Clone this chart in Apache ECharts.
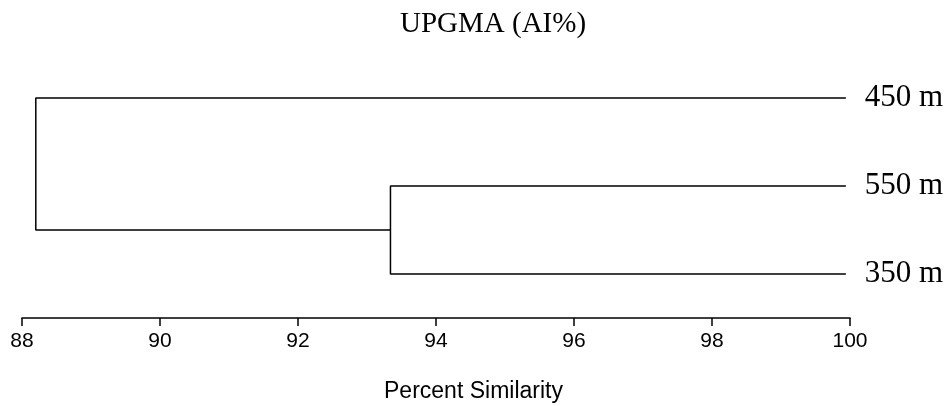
<!DOCTYPE html>
<html>
<head>
<meta charset="utf-8">
<script src="https://cdn.jsdelivr.net/npm/echarts@6/dist/echarts.min.js"></script>
<style>html,body{margin:0;padding:0;background:#fff;}#c{width:951px;height:406px;}</style>
</head>
<body>
<div id="c"></div>
<script>
// Leaves (top to bottom) and their similarity level
const leafNames = ['450 m', '550 m', '350 m'];
const leafSimilarity = [99.94, 99.94, 99.94];
const leafPosition = [3, 2, 1];
// Merge nodes: children given as leaf index (number) or node id ('n0')
const nodeSimilarity = [93.34, 88.2];
const nodeChildren = [[1, 2], [0, 'n0']];
const xTicks = [88, 90, 92, 94, 96, 98, 100];
const axisTitle = 'Percent Similarity';

const nodePos = [];
function childXY(c) {
  if (typeof c === 'number') return [leafSimilarity[c], leafPosition[c]];
  return nodePos[parseInt(c.slice(1), 10)];
}
const linkSeries = [];
nodeChildren.forEach(function (ch, i) {
  const a = childXY(ch[0]);
  const b = childXY(ch[1]);
  const x = nodeSimilarity[i];
  nodePos[i] = [x, (a[1] + b[1]) / 2];
  linkSeries.push({
    type: 'line',
    data: [[a[0], a[1]], [x, a[1]], [x, b[1]], [b[0], b[1]]],
    symbol: 'none',
    lineStyle: { color: '#000', width: 1.5 },
    silent: true,
    animation: false
  });
});

const chart = echarts.init(document.getElementById('c'), null, { renderer: 'canvas' });
chart.setOption({
  backgroundColor: '#fff',
  animation: false,
  title: {
    text: 'UPGMA (AI%)',
    left: 400,
    top: 10,
    padding: 0,
    textStyle: { fontFamily: 'Liberation Serif, Times New Roman, serif', fontWeight: 'normal', fontSize: 29, color: '#000' }
  },
  graphic: [{
    type: 'text',
    x: 473.5,
    y: 380,
    style: {
      text: axisTitle,
      textAlign: 'center',
      textVerticalAlign: 'top',
      fontFamily: 'Liberation Sans, Arial, sans-serif',
      fontSize: 23,
      fill: '#000'
    }
  }],
  grid: { left: 22, right: 101, top: 54, bottom: 88 },
  xAxis: {
    type: 'value',
    min: xTicks[0],
    max: xTicks[xTicks.length - 1],
    interval: 2,
    axisLine: { lineStyle: { color: '#000', width: 1.5 } },
    axisTick: { show: true, length: 8, lineStyle: { color: '#000', width: 1.5 } },
    axisLabel: { color: '#000', fontFamily: 'Liberation Sans, Arial, sans-serif', fontSize: 21, margin: 13 },
    splitLine: { show: false }
  },
  yAxis: {
    type: 'value',
    min: 0.5,
    max: 3.5,
    show: false
  },
  series: linkSeries.concat([{
    type: 'scatter',
    data: leafNames.map(function (n, i) { return { value: [leafSimilarity[i], leafPosition[i]], name: n }; }),
    symbolSize: 0,
    silent: true,
    itemStyle: { opacity: 1, color: '#000' },
    label: {
      show: true,
      position: 'right',
      distance: 19,
      formatter: '{b}',
      color: '#000',
      opacity: 1,
      fontFamily: 'Liberation Serif, Times New Roman, serif',
      fontSize: 31
    }
  }])
});
</script>
</body>
</html>
